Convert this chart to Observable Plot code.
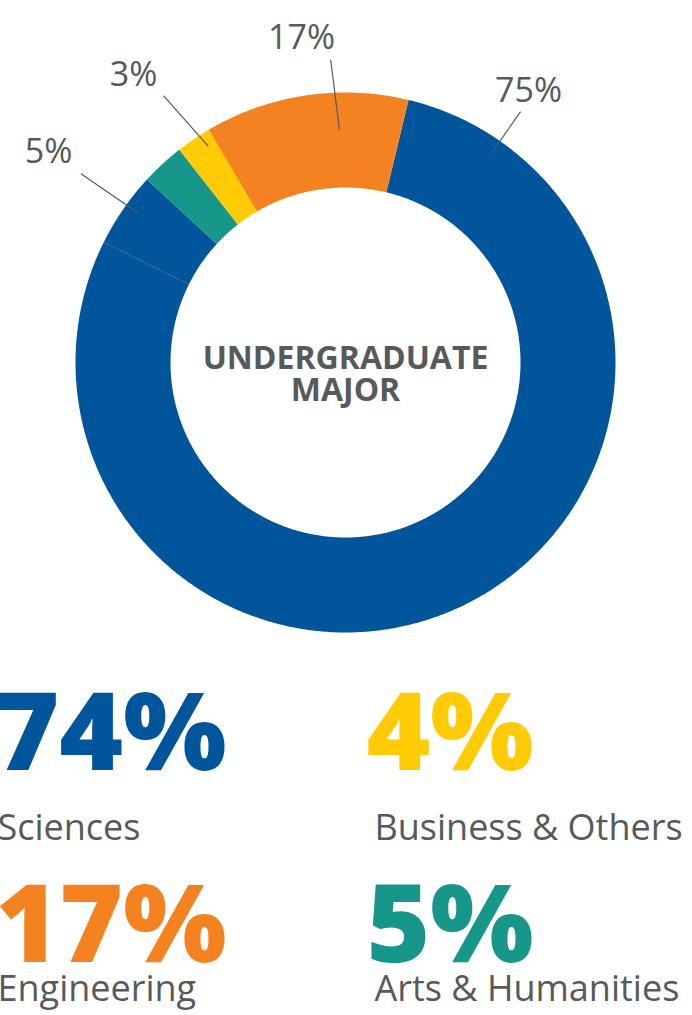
<!DOCTYPE html>
<html><head><meta charset="utf-8">
<script src="https://cdn.jsdelivr.net/npm/d3@7"></script>
<script src="https://cdn.jsdelivr.net/npm/@observablehq/plot@0.6"></script>
<style>
html,body{margin:0;padding:0;background:#fff;overflow:hidden}
svg text{font-family:"Open Sans","Noto Sans",sans-serif}
</style></head><body><div id="chart"></div>
<script>
// ---- data ----
const sliceNames  = ["Sciences", "Sciences (other)", "Arts & Humanities", "Business & Others", "Engineering"];
const sliceShares = [78.6, 4.5, 2.6, 2.1, 12.2];           // measured share of the ring, %
const sliceColors = ["#00559B", "#00559B", "#17968A", "#FFCB05", "#F58220"];
const sliceLabels = ["75%", "5%", "", "3%", "17%"];

const legendNames  = ["Sciences", "Business & Others", "Engineering", "Arts & Humanities"];
const legendValues = ["74%", "4%", "17%", "5%"];
const legendColors = ["#00559B", "#FFCB05", "#F58220", "#17968A"];

const centerTitle = ["UNDERGRADUATE", "MAJOR"];

// ---- layout ----
const W = 692, H = 1015;
const CX = 345, CY = 362;             // ring centre in pixels
const START = 13.5;                   // first slice start, degrees clockwise from north
const R_OUT = 270, R_IN = 175;
const GRAY = "#58595B";
// per labelled slice: leader inner [r, deg], leader outer [r, deg], text [dx, baseline dy]
const labelLayout = {
  0: {li: [257, 34.9], lo: [306, 34.9], t: [183, 261]},
  1: {li: [256, -54.2], lo: [325, -54.5], t: [-297, 200]},
  3: {li: [256, -32.4], lo: [323, -34.3], t: [-212, 277]},
  4: {li: [233, -1.5],  lo: [303, -2.8],  t: [-44, 314]}
};
const centerBaselines = [-6, -38];
const legendNumX = [-350, 21];
const legendLabX = [-348, 29];
const legendNumY = [-407, -599];
const legendLabY = [-477, -638];

function polar(r, deg) { const t = deg * Math.PI / 180; return [r * Math.sin(t), r * Math.cos(t)]; }

let acc = START;
const slices = sliceShares.map((v, i) => { const a0 = acc, a1 = acc + v * 3.6; acc = a1; return {i, a0, a1}; });
function ring(a0, a1) {
  const n = Math.max(2, Math.ceil((a1 - a0) / 0.5)), pts = [];
  for (let k = 0; k <= n; k++) pts.push(polar(R_OUT, a0 + (a1 - a0) * k / n));
  for (let k = n; k >= 0; k--) pts.push(polar(R_IN, a0 + (a1 - a0) * k / n));
  return pts;
}

const labelled = slices.filter(s => sliceLabels[s.i] !== "");
const leaders = labelled.map(s => {
  const L = labelLayout[s.i]; const p = polar(...L.li), q = polar(...L.lo);
  return {x1: p[0], y1: p[1], x2: q[0], y2: q[1]};
});
const labelRows = labelled.map(s => ({text: sliceLabels[s.i], x: labelLayout[s.i].t[0], y: labelLayout[s.i].t[1]}));

const legendNum = legendValues.map((v, i) => ({text: v, color: legendColors[i], x: legendNumX[i % 2], y: legendNumY[Math.floor(i / 2)]}));
const legendLab = legendNames.map((v, i) => ({text: v, x: legendLabX[i % 2], y: legendLabY[Math.floor(i / 2)]}));

const chart = Plot.plot({
  width: W, height: H,
  margin: 0,
  x: {domain: [-CX, W - CX], axis: null},
  y: {domain: [CY - H, CY], axis: null},
  color: {type: "identity"},
  marks: [
    ...slices.map(s => Plot.line(ring(s.a0, s.a1), {x: d => d[0], y: d => d[1], fill: sliceColors[s.i], stroke: "none", curve: "linear-closed"})),
    Plot.link(leaders, {x1: "x1", y1: "y1", x2: "x2", y2: "y2", stroke: GRAY, strokeWidth: 1.2}),
    Plot.text(labelRows, {x: "x", y: "y", text: "text", fontSize: 34, fill: GRAY, lineAnchor: "bottom", textAnchor: "middle"}),
    Plot.text(centerTitle, {x: 0, y: (d, i) => centerBaselines[i], text: d => d, fontSize: 32, fontWeight: "bold", fill: GRAY, lineAnchor: "bottom", textAnchor: "middle"}),
    Plot.text(legendNum, {x: "x", y: "y", text: "text", fill: "color", fontSize: 109, fontWeight: 800, lineAnchor: "bottom", textAnchor: "start"}),
    Plot.text(legendLab, {x: "x", y: "y", text: "text", fill: GRAY, fontSize: 36, lineAnchor: "bottom", textAnchor: "start"})
  ]
});
document.getElementById("chart").appendChild(chart);
</script></body></html>
